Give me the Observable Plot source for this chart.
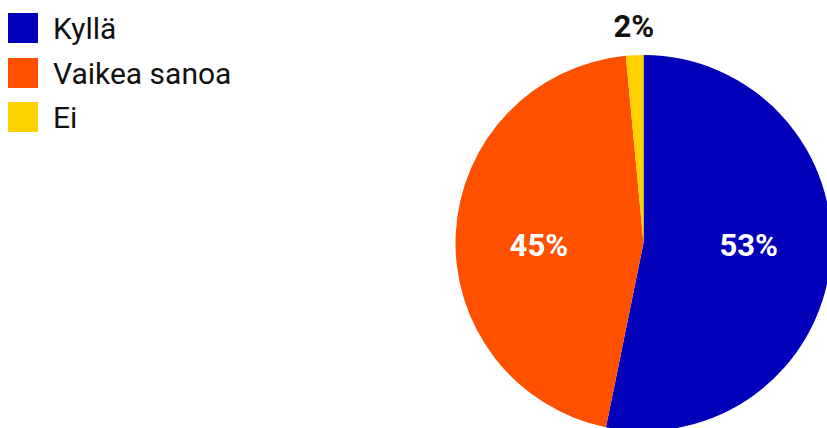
<!DOCTYPE html>
<html>
<head>
<meta charset="utf-8">
<script src="https://cdn.jsdelivr.net/npm/d3@7"></script>
<script src="https://cdn.jsdelivr.net/npm/@observablehq/plot@0.6"></script>
<style>
  html, body { margin: 0; padding: 0; background: #fff; }
  #wrap { position: relative; width: 827px; height: 428px; overflow: hidden; font-family: Roboto, sans-serif; }
  #legend { position: absolute; left: 8px; top: 13px; z-index: 2; }
  .item { display: flex; align-items: center; height: 30px; margin-bottom: 14.5px; }
  .sw { width: 30px; height: 30px; margin-right: 15px; flex: none; }
  .lab { font-size: 30px; color: #111; line-height: 30px; position: relative; top: 1px; }
  #chart { position: absolute; left: 0; top: 0; }
</style>
</head>
<body>
<div id="wrap">
  <div id="legend"></div>
  <div id="chart"></div>
</div>
<script>
// Data
const categories = ["Kyllä", "Vaikea sanoa", "Ei"];
const values = [53.2, 45.3, 1.5];
const labels = ["53%", "45%", "2%"];
const colors = ["#0300B9", "#FF5000", "#FFD100"];

// Legend
const legend = document.getElementById("legend");
categories.forEach((c, i) => {
  const row = document.createElement("div");
  row.className = "item";
  row.innerHTML = `<div class="sw" style="background:${colors[i]}"></div><div class="lab">${c}</div>`;
  legend.appendChild(row);
});

// Pie geometry from d3.pie (angles in radians, clockwise from top)
const arcs = d3.pie().sort(null).value(d => d)(values);
const data = arcs.map((a, i) => {
  const mid = (a.startAngle + a.endAngle) / 2;
  const outside = values[i] < 5;
  const r = outside ? 1.155 : 0.56;
  return {
    category: categories[i],
    label: labels[i],
    color: colors[i],
    startAngle: a.startAngle,
    endAngle: a.endAngle,
    lx: r * Math.sin(mid),
    ly: outside ? r * Math.cos(mid) : 0,
    outside
  };
});

function pieMark(index, scales, values_, dimensions, context) {
  const sc = scales && scales.x ? scales : index; // tolerate signature variants
  const x = sc.x, y = sc.y;
  const cx = x(0), cy = y(0), R = x(1) - x(0);
  const arcGen = d3.arc().innerRadius(0).outerRadius(R);
  const g = d3.create("svg:g").attr("transform", `translate(${cx},${cy})`);
  g.selectAll("path").data(data).join("path")
    .attr("d", d => arcGen({startAngle: d.startAngle, endAngle: d.endAngle}))
    .attr("fill", d => d.color);
  return g.node();
}

const chart = Plot.plot({
  width: 827,
  height: 428,
  x: {domain: [-1, 1], range: [455.5, 831.5], axis: null},
  y: {domain: [-1, 1], range: [431, 55], axis: null},
  style: {fontFamily: "Roboto, sans-serif", background: "transparent"},
  marks: [
    pieMark,
    Plot.text(data.filter(d => !d.outside), {
      x: "lx", y: "ly", text: "label", dy: 3,
      fill: "#fff", fontSize: 31, fontWeight: 700
    }),
    Plot.text(data.filter(d => d.outside), {
      x: "lx", y: "ly", text: "label",
      fill: "#111", fontSize: 31, fontWeight: 700
    })
  ]
});
document.getElementById("chart").appendChild(chart);
</script>
</body>
</html>
